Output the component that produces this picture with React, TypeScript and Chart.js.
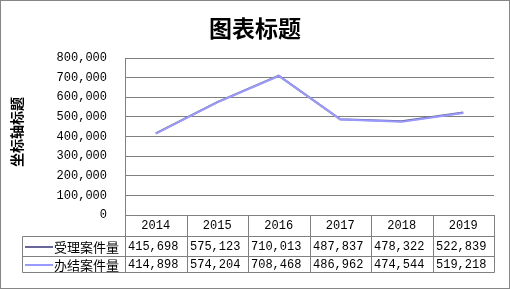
import React, { useEffect, useRef } from "react";
import { Chart, registerables } from "chart.js";

Chart.register(...registerables);

const title = "图表标题";
const axisTitle = "坐标轴标题";
const categories = ["2014", "2015", "2016", "2017", "2018", "2019"];
const seriesNames = ["受理案件量", "办结案件量"];
const accepted = [415698, 575123, 710013, 487837, 478322, 522839];
const closed = [414898, 574204, 708468, 486962, 474544, 519218];
const seriesColors = ["#666699", "#9999FF"];

const numFont = "12px 'Liberation Mono', 'DejaVu Sans Mono', monospace";
const cjkFont = "'Noto Sans CJK SC', sans-serif";

const fmt = (v: number) => v.toLocaleString("en-US");

const tablePlugin = {
  id: "dataTable",
  afterDraw(chart: any) {
    const ctx = chart.ctx as CanvasRenderingContext2D;
    const { left, right, bottom } = chart.chartArea;
    const n = categories.length;
    const colW = (right - left) / n;
    const rowTop = bottom + 21;
    const rowH = [20, 16];
    const tableBottom = rowTop + rowH[0] + rowH[1];
    const legendLeft = 22;
    ctx.save();
    ctx.strokeStyle = "#808080";
    ctx.lineWidth = 1;
    for (let i = 0; i <= n; i++) {
      const x = Math.round(left + i * colW) + 0.5;
      ctx.beginPath();
      ctx.moveTo(x, bottom);
      ctx.lineTo(x, tableBottom + 0.5);
      ctx.stroke();
    }
    const ys = [rowTop, rowTop + rowH[0], tableBottom];
    ys.forEach((y) => {
      ctx.beginPath();
      ctx.moveTo(legendLeft + 0.5, y + 0.5);
      ctx.lineTo(Math.round(right) + 0.5, y + 0.5);
      ctx.stroke();
    });
    ctx.beginPath();
    ctx.moveTo(legendLeft + 0.5, rowTop + 0.5);
    ctx.lineTo(legendLeft + 0.5, tableBottom + 0.5);
    ctx.stroke();

    ctx.fillStyle = "#000";
    ctx.font = numFont;
    ctx.textAlign = "center";
    ctx.textBaseline = "middle";
    const xs = chart.scales.x;
    categories.forEach((c, i) => {
      ctx.fillText(c, xs.getPixelForValue(i), bottom + 11);
    });

    const data = [accepted, closed];
    let y0 = rowTop;
    data.forEach((arr, r) => {
      const cy = y0 + rowH[r] / 2 + 1;
      ctx.strokeStyle = seriesColors[r];
      ctx.lineWidth = 2;
      ctx.beginPath();
      ctx.moveTo(25, cy);
      ctx.lineTo(53, cy);
      ctx.stroke();
      ctx.fillStyle = "#000";
      ctx.font = "13px " + cjkFont;
      ctx.textAlign = "left";
      ctx.fillText(seriesNames[r], 54, cy);
      ctx.font = numFont;
      arr.forEach((v, i) => {
        ctx.fillText(fmt(v), Math.round(left + i * colW) + 3, cy);
      });
      y0 += rowH[r];
    });

    ctx.fillStyle = "#000";
    ctx.textAlign = "center";
    ctx.font = "bold 23px " + cjkFont;
    ctx.fillText(title, 255, 28);

    ctx.save();
    ctx.translate(17, 132);
    ctx.rotate(-Math.PI / 2);
    ctx.font = "bold 14px " + cjkFont;
    ctx.fillText(axisTitle, 0, 0);
    ctx.restore();

    ctx.strokeStyle = "#868686";
    ctx.lineWidth = 1;
    ctx.strokeRect(0.5, 0.5, chart.width - 1, chart.height - 1);
    ctx.restore();
  },
};

export default function App() {
  const ref = useRef<HTMLCanvasElement>(null);
  useEffect(() => {
    document.body.style.margin = "0";
    const chart = new Chart(ref.current!, {
      type: "line",
      data: {
        labels: categories,
        datasets: [
          {
            label: seriesNames[0],
            data: accepted,
            borderColor: seriesColors[0],
            borderWidth: 2,
            pointRadius: 0,
            tension: 0,
            order: 1,
          },
          {
            label: seriesNames[1],
            data: closed,
            borderColor: seriesColors[1],
            borderWidth: 2,
            pointRadius: 0,
            tension: 0,
            order: 0,
          },
        ],
      },
      options: {
        animation: false,
        responsive: false,
        devicePixelRatio: 1,
        layout: { padding: { left: 0, top: 58, right: 16, bottom: 74 } },
        plugins: {
          legend: { display: false },
          tooltip: { enabled: false },
          title: { display: false },
        },
        scales: {
          x: {
            type: "category",
            offset: true,
            display: false,
          },
          y: {
            min: 0,
            max: 800000,
            afterFit: (s: any) => {
              s.width = 125;
            },
            border: { display: true, color: "#808080", width: 1 },
            grid: { color: "#808080", lineWidth: 1, drawTicks: false },
            ticks: {
              stepSize: 100000,
              padding: 18,
              color: "#000",
              font: { family: "'Liberation Mono', monospace", size: 12 },
              callback: (v: any) => fmt(Number(v)),
            },
          },
        },
      },
      plugins: [tablePlugin],
    });
    return () => chart.destroy();
  }, []);
  return (
    <div style={{ position: "absolute", left: 0, top: 0, width: 510, height: 289 }}>
      <canvas ref={ref} width={510} height={289} style={{ width: 510, height: 289 }} />
    </div>
  );
}
